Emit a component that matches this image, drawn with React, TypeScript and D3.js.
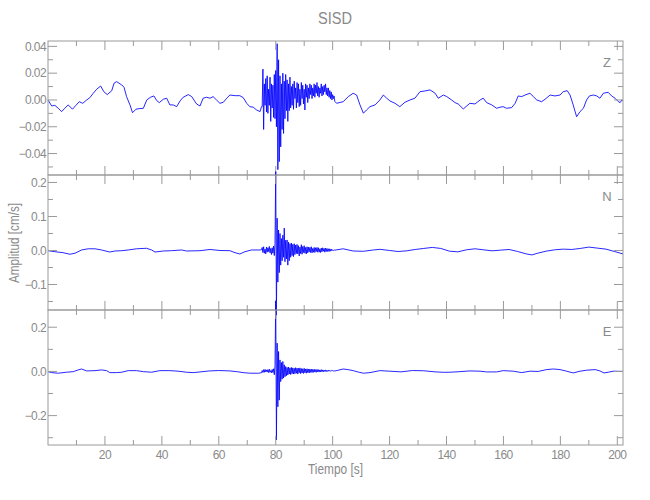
import React from 'react';
import * as d3 from 'd3';

// ---------------- DATA ----------------
const title = 'SISD';
const xLabel = 'Tiempo [s]';
const yLabel = 'Amplitud [cm/s]';
const componentNames = ['Z', 'N', 'E'];

const timeDomain: [number, number] = [0, 202];
const xMajorTicks = [20, 40, 60, 80, 100, 120, 140, 160, 180, 200];
const xMinorTicks = [10, 30, 50, 70, 90, 110, 130, 150, 170, 190];

const zDomain: [number, number] = [-0.056, 0.044];
const zMajor = [-0.04, -0.02, 0, 0.02, 0.04];
const zMinor = [-0.05, -0.03, -0.01, 0.01, 0.03];
const nDomain: [number, number] = [-0.175, 0.222];
const nMajor = [-0.1, 0, 0.1, 0.2];
const nMinor = [-0.15, -0.05, 0.05, 0.15];
const eDomain: [number, number] = [-0.333, 0.278];
const eMajor = [-0.2, 0, 0.2];
const eMinor = [-0.3, -0.1, 0.1];

const burstStep = 0.25;

// Z component
const zPre: [number, number][] = [
  [0, 0], [1.3, -0.0045], [2.4, -0.004], [3.6, -0.0062], [4.8, -0.0087], [5.9, -0.0062], [7.1, -0.0037],
  [8.6, -0.0069], [9.8, -0.004], [11, -0.0013], [12.2, -0.0025], [13.6, 0], [14.7, 0.0017], [15.9, 0.005],
  [17.1, 0.008], [18.5, 0.0104], [19.6, 0.0062], [20.8, 0.004], [22.4, 0.0069], [23.2, 0.0125], [24.1, 0.0137],
  [25.9, 0.0112], [26.7, 0.0095], [27.6, 0.0025], [28.8, -0.0037], [29.7, -0.0095], [30.9, -0.0069], [32, -0.0065],
  [33.5, -0.0062], [34.7, 0], [36, 0.002], [37.2, 0.003], [38.2, -0.0005], [39.1, -0.002], [40.5, 0.0005],
  [41.7, 0.0013], [42.8, -0.0037], [44, -0.0037], [45.2, -0.005], [46.4, -0.0007], [47.5, 0.002], [49.3, 0.004],
  [50.5, 0.0025], [52.2, -0.003], [53.4, -0.0045], [54.5, 0.0013], [55.7, 0.002], [56.9, 0.0013], [58, 0.0025],
  [59.2, 0], [60.4, -0.0025], [61.6, -0.0017], [62.8, 0.0013], [63.9, 0.0037], [65.7, 0.0032], [67.4, 0.0032],
  [68.6, 0.0017], [69.8, -0.0025], [70.9, -0.005], [72.1, -0.0054], [73.3, -0.0075], [74.5, -0.0087], [75, -0.005],
];
const zBurstStart = 75.25;
const zBurst = [
  -0.005, 0.023, -0.022,
  0.012, -0.004, 0.016, -0.009,
  0.018, -0.01, 0.008, -0.004,
  0.017, -0.016, 0.012, -0.006,
  0.011, -0.013, 0.019, -0.014,
  0.022, -0.02, 0.042, -0.052,
  0.03, -0.046, 0.018, -0.035,
  0.012, -0.022, 0.02, -0.025,
  0.014, -0.014, 0.019, -0.008,
  0.015, -0.016, 0.012, -0.008,
  0.017, -0.006, 0.01, -0.004,
  0.012, -0.007, 0.014, 0.001,
  0.009, -0.006, 0.013, -0.002,
  0.012, -0.005, 0.008, -0.004,
  0.013, 0.001, 0.011, -0.003,
  0.008, -0.0075, 0.012, 0.002,
  0.011, -0.002, 0.009, 0.001,
  0.012, 0.004, 0.011, 0.001,
  0.009, 0.003, 0.012, 0.002,
  0.011, 0.005, 0.013, 0.003,
  0.01, 0.002, 0.009, 0.005,
  0.012, 0.003, 0.01, 0.004,
  0.011, 0.006, 0.012, 0.004,
  0.009, 0.003, 0.009, 0.002,
  0.007, 0.001, 0.006, 0.0,
  0.004, 0.001, 0.003, -0.001,
];
const zPost: [number, number][] = [
  [101.4, -0.0025], [103.7, -0.0013], [105.5, 0.0025], [107.2, 0.005], [108.4, 0.0037], [109.6, -0.0037],
  [110.8, -0.0099], [111.9, -0.0075], [113.1, -0.005], [114.9, -0.0037], [116.6, 0], [117.8, 0.0037],
  [119, 0.0013], [120.1, -0.0007], [121.9, -0.0025], [123.6, -0.005], [125.4, -0.0017], [127.2, 0],
  [128.9, 0.0013], [130.7, 0.0062], [132.4, 0.0067], [134.2, 0.0075], [136, 0.005], [137.1, 0.0013],
  [138.9, 0.0037], [140.1, 0.0025], [141.8, 0], [143, -0.002], [144.1, -0.003], [145.9, -0.0067],
  [147.1, -0.0045], [148.2, -0.0025], [150, -0.003], [151.8, 0], [152.9, 0.0013], [154.1, -0.002],
  [155.9, -0.0037], [157.6, -0.0062], [158.8, -0.0054], [159.9, -0.005], [161.1, -0.0062], [162.9, -0.0057],
  [164.1, -0.0025], [165.2, 0.003], [166.4, 0.0025], [167.6, 0.0037], [169.3, 0.005], [170.5, 0.0025],
  [171.7, 0], [173.4, -0.0013], [174.6, 0.0005], [176.4, 0.0037], [178.1, 0.003], [179.9, 0.0037],
  [181, 0.0062], [182.4, 0.0069], [183.4, 0.0037], [184.5, -0.0037], [185.7, -0.0125], [186.9, -0.0087],
  [188.1, -0.0062], [189.2, 0], [190.2, 0.003], [191.6, 0.0037], [192.8, 0.003], [193.9, 0.0013],
  [195.1, 0.005], [196.8, 0.0057], [198, 0.003], [199.2, 0.0013], [200.4, -0.0013], [201, -0.002],
  [201.6, 0], [202, -0.0007],
];

// N component
const nPre: [number, number][] = [
  [0, -0.0006], [2.4, -0.0035], [5.3, -0.0065], [7.7, -0.011], [9.5, -0.008], [11.8, 0.0015], [14.1, 0.005],
  [16.5, 0.005], [18.8, 0.0015], [21.7, -0.0045], [23.5, -0.0015], [25.9, -0.0006], [28.2, 0.0015],
  [31.1, 0.005], [34.6, 0.0065], [36.4, 0.0015], [37.6, -0.0045], [40.5, -0.0015], [43.4, -0.0006],
  [46.9, 0.0015], [48.7, -0.0015], [53.4, -0.0006], [56.9, 0.003], [60.4, 0], [63.9, -0.0006],
  [65.7, -0.0065], [67.4, -0.0103], [69.2, -0.0035], [71.5, 0.0015], [74.5, 0.0015],
];
const nBurstStart = 75;
const nBurst = [
  0.002, 0.009, -0.006, 0.011,
  -0.008, 0.004, -0.01, 0.01,
  -0.005, 0.008, -0.003, 0.012,
  -0.007, 0.006, -0.012, 0.008,
  -0.008, 0.013, -0.015, 0.02,
  0.232, -0.19, 0.095, -0.093,
  0.06, -0.065, 0.05, -0.043,
  0.035, -0.03, 0.045, -0.02,
  0.066, -0.033, 0.03, -0.025,
  0.031, -0.043, 0.025, -0.03,
  0.02, -0.02, 0.022, -0.015,
  0.018, -0.018, 0.02, -0.012,
  0.016, -0.009, 0.018, -0.01,
  0.014, -0.016, 0.01, -0.009,
  0.017, -0.011, 0.012, -0.006,
  0.014, -0.008, 0.009, -0.01,
  0.011, -0.007, 0.01, -0.004,
  0.009, -0.006, 0.011, -0.007,
  0.006, -0.005, 0.009, -0.006,
  0.008, -0.003, 0.009, -0.005,
  0.008, -0.005, 0.005, -0.006,
  0.007, -0.004, 0.008, -0.002,
  0.006, -0.005, 0.007, -0.003,
  0.006, -0.003, 0.005, -0.003,
  0.005, -0.002, 0.004, -0.001,
  0.002, 0.0, 0.002, 0.001,
];
const nPost: [number, number][] = [
  [101.5, 0.002], [103.7, 0.005], [107.2, -0.0015], [110.8, -0.0024], [114.3, 0.0015], [116.6, 0.0035],
  [120, 0], [123, -0.003], [126, -0.001], [129, 0.003], [132, 0.006], [135, 0.009], [138, 0.006],
  [141, -0.002], [144, -0.004], [147, 0.002], [150, 0.005], [153, 0.002], [156, -0.001], [159, 0.001],
  [162, 0.003], [165, -0.003], [168, -0.01], [170, -0.013], [172, -0.008], [175, -0.002], [178, 0.002],
  [181, 0.004], [184, 0.003], [187, 0.006], [190, 0.01], [193, 0.007], [196, 0.004], [199, -0.003], [202, -0.01],
];

// E component
const ePre: [number, number][] = [
  [0, -0.001], [1.3, -0.0054], [3.6, -0.0081], [6.5, -0.0036], [8.9, -0.001], [10.6, 0.0068], [11.8, 0.011],
  [13.6, 0.0023], [16.5, 0.0036], [18.8, 0.0068], [20.6, 0.0036], [21.7, -0.0054], [24.1, -0.0054],
  [25.9, -0.0036], [28.2, 0.0036], [31.1, 0.0036], [33.5, -0.001], [36.4, -0.0036], [39.3, 0.0036],
  [42.8, 0.0036], [45.7, 0.001], [48.7, -0.0036], [51, -0.0054], [53.4, -0.0023], [56.5, 0.002], [60, 0.004],
  [63.9, 0.0023], [66.3, -0.001], [68.6, -0.0054], [70.9, -0.0081], [73.9, -0.0081],
];
const eBurstStart = 75;
const eBurst = [
  -0.006, 0.004, -0.005, 0.008,
  -0.004, 0.009, -0.002, 0.007,
  -0.003, 0.008, -0.005, 0.01,
  -0.004, 0.004, -0.006, 0.009,
  -0.005, 0.012, -0.015, 0.025,
  0.32, -0.31, 0.128, -0.16,
  0.09, -0.13, 0.052, -0.046,
  0.04, -0.035, 0.045, -0.03,
  0.03, -0.024, 0.022, -0.02,
  0.018, -0.016, 0.02, -0.012,
  0.016, -0.014, 0.018, -0.01,
  0.016, -0.012, 0.014, -0.01,
  0.017, -0.008, 0.015, -0.012,
  0.014, -0.006, 0.016, -0.01,
  0.013, -0.007, 0.012, -0.009,
  0.014, -0.006, 0.011, -0.008,
  0.012, -0.005, 0.01, -0.007,
  0.011, -0.004, 0.01, -0.005,
  0.009, -0.004, 0.01, -0.003,
  0.008, -0.004, 0.009, -0.002,
  0.008, -0.003, 0.007, -0.002,
  0.008, -0.001, 0.007, -0.002,
  0.006, 0.0, 0.007, -0.001,
  0.005, 0.0, 0.006, 0.001,
  0.005, 0.001, 0.004, 0.002,
  0.004, 0.002, 0.003, 0.002,
];
const ePost: [number, number][] = [
  [101.5, 0.004], [103.7, 0.011], [105.5, 0.008], [107.2, 0.0036], [109, -0.003], [110.8, -0.0081],
  [113.1, -0.0054], [116.6, 0.0036], [120, 0.001], [124, -0.002], [128, 0.004], [132, 0.003], [136, -0.002],
  [139, -0.004], [141.2, -0.0036], [144.7, -0.001], [148.2, 0.0023], [151.8, 0.001], [154.1, -0.0023],
  [157.6, -0.0023], [159.9, 0.0036], [163.5, 0.001], [166.4, -0.0054], [169.3, 0.001], [172.2, 0],
  [175.2, 0.0083], [177.5, 0.011], [179.9, 0.0083], [182.2, 0.001], [184.5, -0.0068], [186.9, 0.001],
  [189.2, 0.0054], [192.2, 0.0083], [193.9, 0.0023], [195.3, -0.0068], [196.8, -0.0036], [198.6, 0.001],
  [202, 0],
];

// ---------------- LAYOUT ----------------
const W = 650;
const H = 500;
const plotLeft = 48;
const plotRight = 623;
const panelEdges = [41, 175, 310, 445];
const majorLen = 9;
const minorLen = 5;
const axisColor = '#9a9a9a';
const textColor = '#8a8a8a';
const traceColor = '#0000ff';
const fontFamily = "'Liberation Sans', 'DejaVu Sans', sans-serif";

function buildSeries(pre: [number, number][], burst: number[], start: number, post: [number, number][]) {
  const mid: [number, number][] = burst.map((v, i) => [start + i * burstStep, v]);
  return [...pre, ...mid, ...post];
}

const series = [
  buildSeries(zPre, zBurst, zBurstStart, zPost),
  buildSeries(nPre, nBurst, nBurstStart, nPost),
  buildSeries(ePre, eBurst, eBurstStart, ePost),
];
const domains = [zDomain, nDomain, eDomain];
const majors = [zMajor, nMajor, eMajor];
const minors = [zMinor, nMinor, eMinor];
const formats = [d3.format('.2f'), d3.format('.1f'), d3.format('.1f')];

export default function App() {
  const x = d3.scaleLinear().domain(timeDomain).range([plotLeft, plotRight]);

  const panels = componentNames.map((name, i) => {
    const top = panelEdges[i];
    const bottom = panelEdges[i + 1];
    const y = d3.scaleLinear().domain(domains[i]).range([bottom, top]);
    const line = d3.line<[number, number]>().x(d => x(d[0])).y(d => y(d[1]));
    const path = line(series[i]) || '';
    return (
      <g key={name}>
        <path d={path} fill="none" stroke={traceColor} strokeWidth={0.85} />
        <rect x={plotLeft} y={top} width={plotRight - plotLeft} height={bottom - top}
          fill="none" stroke={axisColor} strokeWidth={1} />
        {xMajorTicks.map(t => (
          <g key={'xM' + t}>
            <line x1={x(t)} x2={x(t)} y1={top} y2={top + majorLen} stroke={axisColor} />
            <line x1={x(t)} x2={x(t)} y1={bottom} y2={bottom - majorLen} stroke={axisColor} />
          </g>
        ))}
        {xMinorTicks.map(t => (
          <g key={'xm' + t}>
            <line x1={x(t)} x2={x(t)} y1={top} y2={top + minorLen} stroke={axisColor} />
            <line x1={x(t)} x2={x(t)} y1={bottom} y2={bottom - minorLen} stroke={axisColor} />
          </g>
        ))}
        {majors[i].map(v => (
          <g key={'yM' + v}>
            <line x1={plotLeft} x2={plotLeft + majorLen} y1={y(v)} y2={y(v)} stroke={axisColor} />
            <line x1={plotRight} x2={plotRight - majorLen} y1={y(v)} y2={y(v)} stroke={axisColor} />
            <text x={plotLeft - 2} y={y(v)} dy="0.36em" textAnchor="end" fontSize={12}
              letterSpacing={-0.6} fill={textColor} fontFamily={fontFamily}>{formats[i](v)}</text>
          </g>
        ))}
        {minors[i].map(v => (
          <g key={'ym' + v}>
            <line x1={plotLeft} x2={plotLeft + minorLen} y1={y(v)} y2={y(v)} stroke={axisColor} />
            <line x1={plotRight} x2={plotRight - minorLen} y1={y(v)} y2={y(v)} stroke={axisColor} />
          </g>
        ))}
        <text x={607} y={top + 25.5} textAnchor="middle" fontSize={13} fill={textColor}
          fontFamily={fontFamily}>{name}</text>
      </g>
    );
  });

  const bottomEdge = panelEdges[3];

  return (
    <svg width={W} height={H} style={{ position: 'absolute', left: 0, top: 0, background: '#fff' }}>
      <rect x={0} y={0} width={W} height={H} fill="#ffffff" />
      {panels}
      {xMajorTicks.map(t => (
        <text key={'xl' + t} x={x(t)} y={bottomEdge + 13.5} textAnchor="middle" fontSize={12}
          letterSpacing={-0.6} fill={textColor} fontFamily={fontFamily}>{String(t)}</text>
      ))}
      <text x={335} y={24} textAnchor="middle" fontSize={16} textLength={34}
        lengthAdjust="spacingAndGlyphs" fill={textColor} fontFamily={fontFamily}>{title}</text>
      <text x={335.5} y={474} textAnchor="middle" fontSize={14} textLength={55}
        lengthAdjust="spacingAndGlyphs" fill={textColor} fontFamily={fontFamily}>{xLabel}</text>
      <text transform={`translate(19, 243) rotate(-90)`} textAnchor="middle" fontSize={14} textLength={80}
        lengthAdjust="spacingAndGlyphs" fill={textColor} fontFamily={fontFamily}>{yLabel}</text>
    </svg>
  );
}
